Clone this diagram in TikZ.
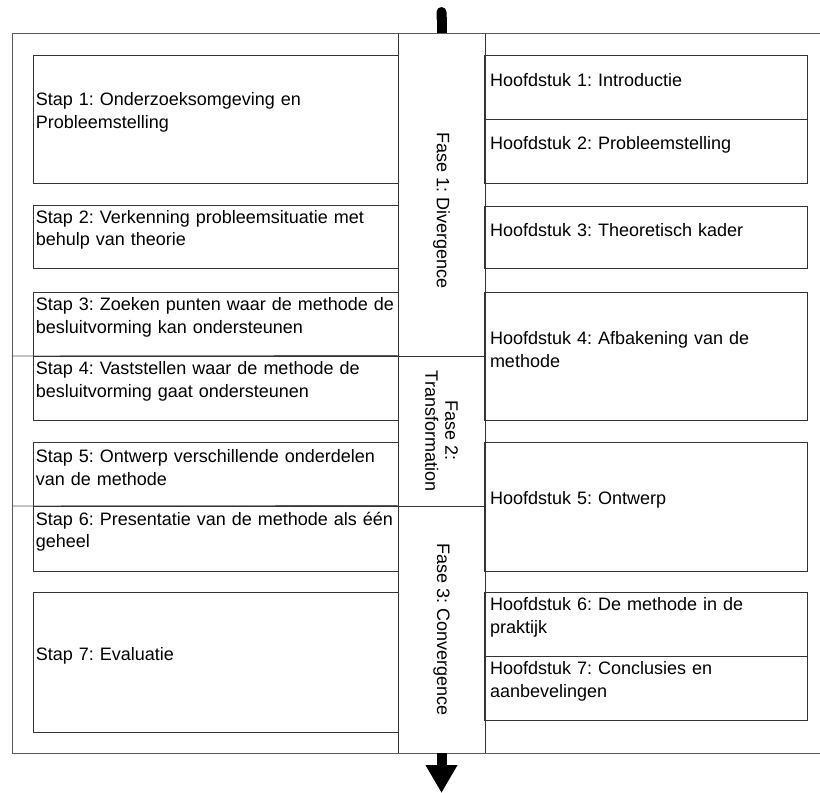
\documentclass[tikz,border=0pt]{standalone}
\usepackage{fontspec}
\setmainfont{Liberation Sans}
\usetikzlibrary{arrows.meta, positioning}
\frenchspacing

\begin{document}
\begin{tikzpicture}[
    x=1pt, y=-1pt,
    font=\fontsize{18}{22.5}\selectfont,
    line width=0.9pt,
    stapbox/.style={
        draw=black!80,
        minimum width=365pt,
        text width=359.5pt,
        inner xsep=2.75pt,
        inner ysep=0pt,
        align=left
    },
    hfdbox/.style={
        draw=black!80,
        minimum width=323pt,
        text width=311pt,
        inner xsep=6pt,
        inner ysep=0pt,
        align=left
    },
    fasecell/.style={
        draw=black!80,
        minimum width=87pt,
        inner sep=0pt
    },
    faselabel/.style={
        rotate=-90,
        align=center,
        inner sep=0pt
    },
    frame/.style={
        draw=black!65
    },
    flow/.style={
        line width=10pt
    }
]
\useasboundingbox (0,0) rectangle (820,793);

% Fase column
\node[fasecell, minimum height=323pt] (fase1) at (441.5,194.5) {};
\node[fasecell, minimum height=150pt] (fase2) at (441.5,431) {};
\node[fasecell, minimum height=247pt] (fase3) at (441.5,629.5) {};
\node[faselabel] (fase1txt) at (441.5,211) {Fase 1: Divergence};
\node[faselabel, font=\fontsize{18}{20}\selectfont] (fase2txt) at (fase2.center) {Fase 2:\\Transformation};
\node[faselabel] (fase3txt) at (fase3.center) {Fase 3: Convergence};

% Outer frame
\draw[frame] (820,33) -- (12,33) -- (12,753) -- (820,753);
\draw[frame] (12,356) -- (fase2.north west);
\draw[frame] (12,506) -- (fase3.north west);

% Stappen
\foreach \i/\yc/\ht/\txt in {
    1/119/128/{Stap 1: Onderzoeksomgeving en\\Probleemstelling},
    2/236.5/63/{Stap 2: Verkenning probleemsituatie met\\behulp van theorie},
    3/324/64/{Stap 3: Zoeken punten waar de methode de\\besluitvorming kan ondersteunen},
    4/388/64/{Stap 4: Vaststellen waar de methode de\\besluitvorming gaat ondersteunen},
    5/474/64/{Stap 5: Ontwerp verschillende onderdelen\\van de methode},
    6/538.5/65/{Stap 6: Presentatie van de methode als één\\geheel},
    7/662/140/{Stap 7: Evaluatie}} {
    \node[stapbox, minimum height=\ht pt] (stap\i) at (215.5,\yc) {\txt};
}

% Hoofdstukken
\foreach \i/\yc/\ht/\txt in {
    1/87/64/{Hoofdstuk 1: Introductie},
    2/151/64/{Hoofdstuk 2: Probleemstelling},
    3/237/62/{Hoofdstuk 3: Theoretisch kader},
    4/356/128/{Hoofdstuk 4: Afbakening van de\\methode},
    5/506.5/129/{Hoofdstuk 5: Ontwerp},
    6/624/64/{Hoofdstuk 6: De methode in de\\praktijk},
    7/688/64/{Hoofdstuk 7: Conclusies en\\aanbevelingen}} {
    \node[hfdbox, minimum height=\ht pt] (hfd\i) at (645.5,\yc) {\txt};
}

% In- and outflow
\coordinate (start) at (441.5,7);
\coordinate (finish) at (441.5,793);
\draw[flow, {Round Cap}-] (start) -- (fase1.north);
\draw[flow, -{Triangle[width=30pt,length=28pt]}] (fase3.south) -- (finish);

\end{tikzpicture}
\end{document}
